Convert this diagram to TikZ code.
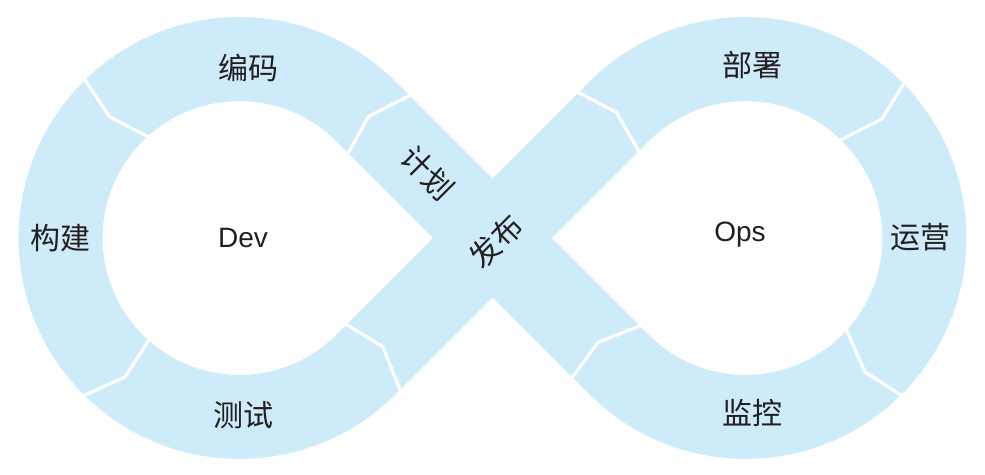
\documentclass[tikz,border=0pt]{standalone}
\usepackage{fontspec}
\setmainfont{Liberation Sans}
\newfontfamily\cjk{Noto Sans CJK SC}
\usepackage{tikz}
\definecolor{loopblue}{HTML}{CDEBF8}
\definecolor{ink}{HTML}{231F20}
\tikzset{
    loopband/.style={
        draw=loopblue,
        line width=42pt,
    },
    seam/.style={
        draw=white,
        line width=1.6pt,
        line join=miter,
    },
    stagetext/.style={
        inner sep=0,
        text=ink,
        font=\cjk\fontsize{15pt}{15pt}\selectfont,
    },
    hubtext/.style={
        inner sep=0,
        text=ink,
        font=\fontsize{14pt}{14pt}\selectfont,
    },
}

\begin{document}
\begin{tikzpicture}[x=0.5pt,y=0.5pt]
            \useasboundingbox (0,0) rectangle (985,475);
            \coordinate (L) at (239.5,237);
            \coordinate (R) at (745.5,237);
            \coordinate (X) at (492.5,237);

            \draw[loopband] (X) -- ++(-126.5,126.5) arc (45:315:178.9)
                -- (X) -- ++(126.5,126.5) arc (135:-135:178.9) -- cycle;

            \begin{scope}[shift={(L)}]
                \draw[seam] (134:228) -- (137:178) -- (131:130);
                \draw[seam] (228:130) -- (230.5:180) -- (224.7:228);
                \draw[seam] (39.6:228) -- (43.3:177) -- (36.4:130);
                \draw[seam] (-39.4:130) -- (-37.2:180) -- (-44.2:228);
            \end{scope}
            \begin{scope}[shift={(R)}]
                \draw[seam] (139.3:228) -- (135.8:180) -- (142.1:130);
                \draw[seam] (220.8:130) -- (215.3:181) -- (219.2:228);
                \draw[seam] (46.9:130) -- (41.1:181) -- (44.7:228);
                \draw[seam] (-41:130) -- (-48.3:179.5) -- (-44.9:228);
            \end{scope}

            \node[stagetext] (code) at (248,407) {编码};
            \node[stagetext] (build) at (60,237) {构建};
            \node[stagetext] (test) at (243,60) {测试};
            \node[stagetext, rotate=-45] (plan) at (428,302) {计划};
            \node[stagetext, rotate=45] (release) at (496,234) {发布};
            \node[stagetext] (deploy) at (752,410) {部署};
            \node[stagetext] (operate) at (920,238) {运营};
            \node[stagetext] (monitor) at (752,62) {监控};
            \node[hubtext] (dev) at (243,237) {Dev};
            \node[hubtext] (ops) at (740,240) {Ops};
        \end{tikzpicture}
\end{document}
